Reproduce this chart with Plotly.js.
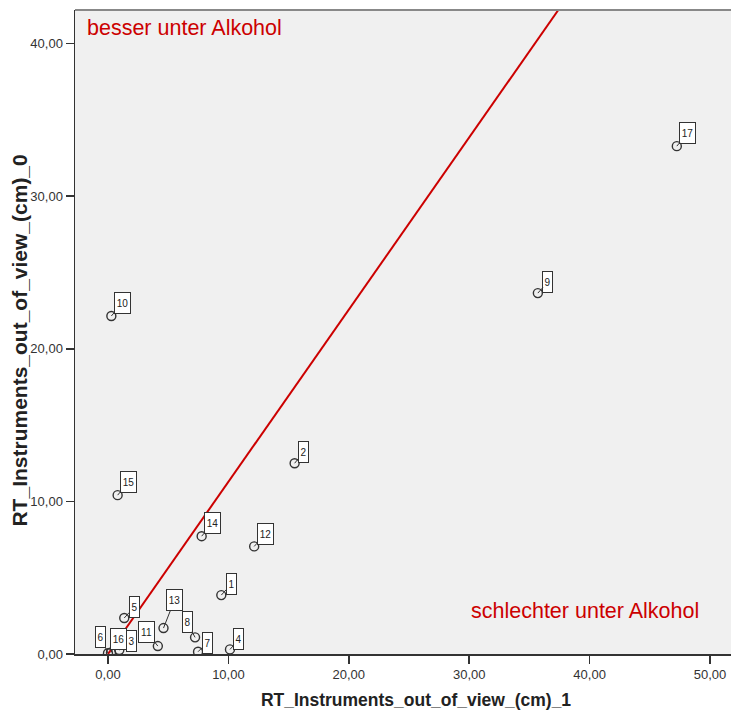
<!DOCTYPE html>
<html>
<head>
<meta charset="utf-8">
<script src="https://cdn.plot.ly/plotly-3.0.1.min.js"></script>
<style>html,body{margin:0;padding:0;background:#fff;overflow:hidden;width:731px;height:716px;}#chart{width:757px;height:716px;}</style>
</head>
<body>
<div id="chart"></div>
<script>
// Case numbers and values
var caseIds = ["1","2","3","4","5","6","7","8","9","10","11","12","13","14","15","16","17"];
var xValues = [9.41, 15.5, 0.94, 10.13, 1.35, 0.0, 7.48, 7.23, 35.7, 0.28, 4.14, 12.14, 4.61, 7.78, 0.8, 0.25, 47.24];
var yValues = [3.86, 12.5, 0.26, 0.3, 2.36, 0.05, 0.15, 1.09, 23.65, 22.15, 0.52, 7.05, 1.7, 7.72, 10.41, 0.1, 33.28];

// Reference line
var lineX = [0, 37.4];
var lineY = [0, 42.2];

// Axis ticks and titles
var tickValsX = [0, 10, 20, 30, 40, 50];
var tickValsY = [0, 10, 20, 30, 40];
var xTitle = 'RT_Instruments_out_of_view_(cm)_1';
var yTitle = 'RT_Instruments_out_of_view_(cm)_0';

// Label box pixel offsets (placement only)
var labelAx = [10, 9, 12, 9, 10, -7, 9, -8, 10, 11, -11, 11, 11, 11, 11, 7, 11];
var labelAy = [-11, -11, -9, -10, -11, -16, -9, -15, -11, -13, -14, -12, -28, -13, -13, -13, -13];

var red = '#cc0000';
var fontFam = 'Liberation Sans, Arial, sans-serif';

var traces = [
  {
    type: 'scatter', mode: 'lines', x: lineX, y: lineY,
    line: {color: red, width: 2}, hoverinfo: 'skip', showlegend: false
  },
  {
    type: 'scatter', mode: 'markers', x: xValues, y: yValues,
    marker: {symbol: 'circle-open', size: 9, color: '#333333', line: {width: 1.4, color: '#333333'}},
    cliponaxis: true, showlegend: false
  }
];

var annotations = caseIds.map(function(id, i){
  return {
    x: xValues[i], y: yValues[i], xref: 'x', yref: 'y',
    text: id, showarrow: true, arrowhead: 0, arrowwidth: 1, arrowcolor: '#333333',
    ax: labelAx[i], ay: labelAy[i], standoff: 0,
    font: {family: fontFam, size: 10, color: '#222222'},
    bgcolor: '#ffffff', bordercolor: '#333333', borderwidth: 1, borderpad: 1,
    width: id.length > 1 ? 13 : 7, height: 18
  };
});

annotations.push({
  xref: 'x', yref: 'y', x: -1.87, y: 41.0, xanchor: 'left', yanchor: 'middle',
  text: 'besser unter Alkohol', showarrow: false,
  font: {family: fontFam, size: 21.5, color: red}
});
annotations.push({
  xref: 'x', yref: 'y', x: 29.95, y: 2.79, xanchor: 'left', yanchor: 'middle',
  text: 'schlechter unter Alkohol', showarrow: false,
  font: {family: fontFam, size: 21.5, color: red}
});
// y axis title placed as rotated text left of the tick labels
annotations.push({
  xref: 'paper', yref: 'paper', x: (18 - 74.5) / 682.5, y: (654 - 341) / 644,
  xanchor: 'center', yanchor: 'middle', textangle: -90,
  text: yTitle, showarrow: false,
  font: {family: fontFam, size: 21, color: '#222222', weight: 'bold'}
});

var layout = {
  width: 757, height: 716,
  margin: {l: 74.5, r: 0, t: 10, b: 62},
  paper_bgcolor: '#ffffff',
  plot_bgcolor: '#f0f0f0',
  separators: ',.',
  font: {family: fontFam, color: '#333333'},
  xaxis: {
    range: [-2.74, 53.9], tickvals: tickValsX, tickformat: '.2f',
    showgrid: false, zeroline: false,
    showline: true, linecolor: '#333333', linewidth: 1.5,
    ticks: 'outside', ticklen: 8, tickwidth: 1.5, tickcolor: '#333333',
    tickfont: {size: 13, color: '#333333'},
    title: {text: xTitle, standoff: 12,
      font: {size: 17.5, color: '#222222', weight: 'bold'}},
    automargin: false
  },
  yaxis: {
    range: [0, 42.2], tickvals: tickValsY, tickformat: '.2f',
    showgrid: false, zeroline: false,
    showline: true, linecolor: '#333333', linewidth: 1.5,
    ticks: 'outside', ticklen: 8, tickwidth: 1.5, tickcolor: '#333333',
    tickfont: {size: 13, color: '#333333'},
    automargin: false
  },
  shapes: [
    {type: 'line', xref: 'paper', yref: 'paper', x0: 0, x1: 1, y0: 1, y1: 1,
     line: {color: '#888888', width: 2}}
  ],
  annotations: annotations,
  showlegend: false
};

Plotly.newPlot('chart', traces, layout, {displayModeBar: false, staticPlot: true});
</script>
</body>
</html>
